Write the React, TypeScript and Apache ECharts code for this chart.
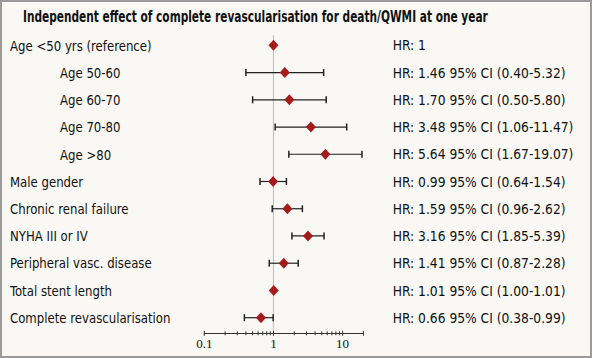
import React, { useEffect, useRef } from "react";
import * as echarts from "echarts";

const TITLE = "Independent effect of complete revascularisation for death/QWMI at one year";
const categories = [
  "Age <50 yrs (reference)",
  "Age 50-60",
  "Age 60-70",
  "Age 70-80",
  "Age >80",
  "Male gender",
  "Chronic renal failure",
  "NYHA III or IV",
  "Peripheral vasc. disease",
  "Total stent length",
  "Complete revascularisation",
];
const indented = [false, true, true, true, true, false, false, false, false, false, false];
const hrValues = [1, 1.46, 1.7, 3.48, 5.64, 0.99, 1.59, 3.16, 1.41, 1.01, 0.66];
const ciLow: (number | null)[] = [null, 0.4, 0.5, 1.06, 1.67, 0.64, 0.96, 1.85, 0.87, 1.0, 0.38];
const ciHigh: (number | null)[] = [null, 5.32, 5.8, 11.47, 19.07, 1.54, 2.62, 5.39, 2.28, 1.01, 0.99];
const axisMin = 0.1;
const axisMax = 20;
const tickValues = [0.1, 0.2, 0.3, 0.4, 0.5, 0.6, 0.7, 0.8, 0.9, 1, 2, 3, 4, 5, 6, 7, 8, 9, 10, 20];
const majorTicks = [0.1, 1, 10, 20];
const tickLabels = [0.1, 1, 10];

const FONT = "'DejaVu Sans Condensed', 'Liberation Sans Narrow', sans-serif";

export default function App() {
  const ref = useRef<HTMLDivElement>(null);
  useEffect(() => {
    if (!ref.current) return;
    const chart = echarts.init(ref.current, null, { renderer: "svg" });

    const hrLabels = hrValues.map((v, i) =>
      ciLow[i] == null
        ? `HR: ${v}`
        : `HR: ${v.toFixed(2)} 95% CI (${(ciLow[i] as number).toFixed(2)}-${(ciHigh[i] as number).toFixed(2)})`
    );

    const errData = categories
      .map((c, i) => (ciLow[i] == null ? null : [ciLow[i], ciHigh[i], i]))
      .filter((d) => d != null);

    const textItem = (x: number, y: number, text: string, sx: number) => ({
      type: "text",
      x,
      y,
      scaleX: sx,
      style: {
        text,
        x: 0,
        y: 0,
        fill: "#111",
        fontFamily: FONT,
        fontSize: 14.5,
        align: "left",
        verticalAlign: "middle",
      },
    });

    const option: any = {
      animation: false,
      backgroundColor: "#f9f8f4",
      graphic: [
        {
          type: "rect",
          z: -10,
          silent: true,
          shape: { x: 1, y: 1, width: 590, height: 356 },
          style: { fill: "none", stroke: "#9a9a9a", lineWidth: 2 },
        },
        {
          type: "text",
          x: 23,
          y: 16,
          scaleX: 0.76,
          style: {
            text: TITLE,
            fill: "#111",
            fontFamily: FONT,
            fontWeight: "bold",
            fontSize: 15.5,
            align: "left",
            verticalAlign: "middle",
          },
        },
      ],
      grid: { left: 204.3, right: 228.6, top: 31.7, bottom: 26.7, containLabel: false },
      xAxis: {
        type: "log",
        min: axisMin,
        max: axisMax,
        logBase: 10,
        offset: 2,
        axisLine: { show: true, lineStyle: { color: "#333", width: 1 } },
        axisTick: { show: false },
        splitLine: { show: false },
        axisLabel: {
          show: true,
          margin: 4,
          fontFamily: "Liberation Serif",
          fontSize: 13,
          color: "#111",
          showMinLabel: true,
          showMaxLabel: true,
          formatter: (v: number) => {
            const t = tickLabels.find((x) => Math.abs(x - v) < 1e-6 * x);
            return t != null ? String(t) : "";
          },
        },
      },
      yAxis: {
        type: "category",
        inverse: true,
        data: categories,
        axisLine: { show: false },
        axisTick: { show: false },
        splitLine: { show: false },
        axisLabel: { show: false },
      },
      series: [
        {
          type: "custom",
          name: "refline",
          clip: false,
          data: [[1, 0]],
          encode: { x: 0, y: 1 },
          renderItem: (params: any, api: any) => {
            const x = api.coord([api.value(0), 0])[0];
            const cs = params.coordSys;
            return {
              type: "line",
              shape: { x1: x, y1: cs.y + 3.5, x2: x, y2: cs.y + cs.height + 2 },
              style: { stroke: "#bdbdbd", lineWidth: 1 },
            };
          },
          z: 1,
        },
        {
          type: "custom",
          name: "ticks",
          clip: false,
          data: tickValues.map((v) => [v, 0]),
          encode: { x: 0, y: 1 },
          renderItem: (params: any, api: any) => {
            const v = api.value(0);
            const x = api.coord([v, 0])[0];
            const cs = params.coordSys;
            const y = cs.y + cs.height + 2;
            const major = majorTicks.some((m) => Math.abs(m - v) < 1e-6);
            const h = major ? 2.5 : 2;
            return {
              type: "line",
              shape: { x1: x, y1: y - h, x2: x, y2: y + h },
              style: { stroke: "#333", lineWidth: 1 },
            };
          },
          z: 2,
        },
        {
          type: "custom",
          name: "labels",
          clip: false,
          data: categories.map((c, i) => [axisMin, i]),
          encode: { x: 0, y: 1 },
          renderItem: (params: any, api: any) => {
            const i = params.dataIndex;
            const y = api.coord([axisMin, i])[1];
            return {
              type: "group",
              children: [
                textItem(indented[i] ? 60 : 10, y, categories[i], 0.9),
                textItem(392.7, y, hrLabels[i], 0.944),
              ],
            };
          },
          z: 2,
        },
        {
          type: "custom",
          name: "ci",
          clip: false,
          data: errData,
          encode: { x: [0, 1], y: 2 },
          renderItem: (params: any, api: any) => {
            const lo = api.coord([api.value(0), api.value(2)]);
            const hi = api.coord([api.value(1), api.value(2)]);
            const y = lo[1];
            const cap = 3.5;
            return {
              type: "group",
              children: [
                { type: "line", shape: { x1: lo[0], y1: y, x2: hi[0], y2: y }, style: { stroke: "#222", lineWidth: 1.2 } },
                { type: "line", shape: { x1: lo[0], y1: y - cap, x2: lo[0], y2: y + cap }, style: { stroke: "#222", lineWidth: 1.5 } },
                { type: "line", shape: { x1: hi[0], y1: y - cap, x2: hi[0], y2: y + cap }, style: { stroke: "#222", lineWidth: 1.5 } },
              ],
            };
          },
          z: 3,
        },
        {
          type: "scatter",
          name: "HR",
          data: hrValues.map((v, i) => [v, i]),
          symbol: "diamond",
          symbolSize: [10, 11],
          itemStyle: { color: "#a51b1b", opacity: 1 },
          z: 4,
        },
      ],
    };
    chart.setOption(option);
    return () => chart.dispose();
  }, []);

  return (
    <div
      ref={ref}
      style={{ position: "fixed", left: 0, top: 0, width: 592, height: 358, background: "#f9f8f4" }}
    />
  );
}
